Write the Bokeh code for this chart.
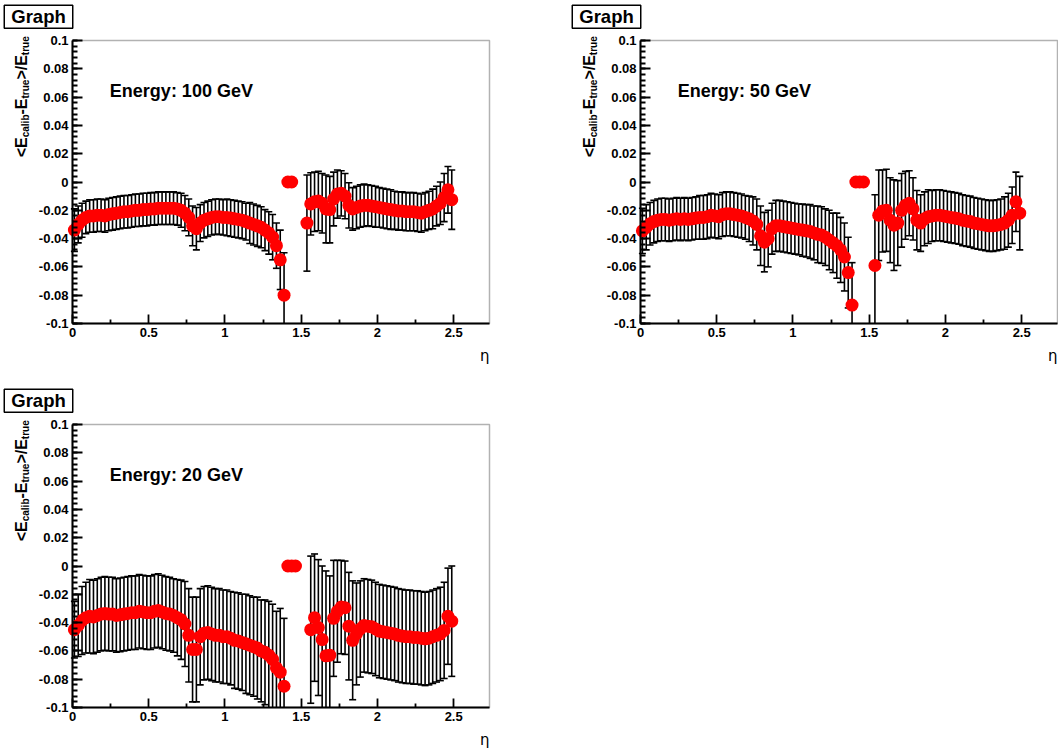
import numpy as np
from bokeh.plotting import figure
from bokeh.models import (ColumnDataSource, Range1d, FixedTicker, CustomJSTickFormatter, Label,
                          LinearAxis, BoxAnnotation)
from bokeh.layouts import row, column
from bokeh.embed import file_html
from bokeh.resources import INLINE

# ---------------- data ----------------
ETA_BARREL = [0.0125, 0.0375, 0.0625, 0.0875, 0.1125, 0.1375, 0.1625, 0.1875, 0.2125, 0.2375,
              0.2625, 0.2875, 0.3125, 0.3375, 0.3625, 0.3875, 0.4125, 0.4375, 0.4625, 0.4875,
              0.5125, 0.5375, 0.5625, 0.5875, 0.6125, 0.6375, 0.6625, 0.6875, 0.7125, 0.7375,
              0.7625, 0.7875, 0.8125, 0.8375, 0.8625, 0.8875, 0.9125, 0.9375, 0.9625, 0.9875,
              1.0125, 1.0375, 1.0625, 1.0875, 1.1125, 1.1375, 1.1625, 1.1875, 1.2125, 1.2375,
              1.2625, 1.2875, 1.3125, 1.3375, 1.3625, 1.3875]
ETA_CRACK = [1.4125, 1.4375, 1.4625]
ETA_ENDCAP = [1.5375, 1.5625, 1.5875, 1.6125, 1.6375, 1.6625, 1.6875, 1.7125, 1.7375, 1.7625,
              1.7875, 1.8125, 1.8375, 1.8625, 1.8875, 1.9125, 1.9375, 1.9625, 1.9875, 2.0125,
              2.0375, 2.0625, 2.0875, 2.1125, 2.1375, 2.1625, 2.1875, 2.2125, 2.2375, 2.2625,
              2.2875, 2.3125, 2.3375, 2.3625, 2.3875, 2.4125, 2.4375, 2.4625, 2.4875]

# 100 GeV
R100_B = [-0.034, -0.030, -0.027, -0.025, -0.024, -0.024, -0.0235, -0.0235, -0.024, -0.023,
          -0.0225, -0.022, -0.0215, -0.021, -0.021, -0.0205, -0.020, -0.020, -0.0195, -0.0195,
          -0.019, -0.019, -0.0185, -0.0185, -0.0185, -0.0185, -0.0185, -0.019, -0.020, -0.022,
          -0.025, -0.031, -0.033, -0.029, -0.027, -0.026, -0.025, -0.0245, -0.0245, -0.025,
          -0.025, -0.0255, -0.026, -0.0265, -0.027, -0.028, -0.029, -0.030, -0.031, -0.032,
          -0.034, -0.036, -0.039, -0.045, -0.055, -0.080]
E100_B = [0.015, 0.013, 0.012, 0.0115, 0.0115, 0.0115, 0.0115, 0.0115, 0.0115, 0.0115,
          0.0115, 0.0115, 0.0115, 0.0115, 0.0115, 0.0115, 0.0115, 0.0115, 0.0115, 0.0115,
          0.0115, 0.0115, 0.0115, 0.0115, 0.0115, 0.0115, 0.0115, 0.0115, 0.012, 0.0125,
          0.013, 0.014, 0.015, 0.013, 0.0125, 0.0125, 0.0125, 0.0125, 0.0125, 0.0125,
          0.013, 0.013, 0.013, 0.013, 0.013, 0.013, 0.0145, 0.0145, 0.0145, 0.0145,
          0.0145, 0.015, 0.016, 0.016, 0.021, 0.030]
R100_C = [0.0, 0.0]
R100_E = [-0.029, -0.0155, -0.014, -0.0135, -0.015, -0.019, -0.0195, -0.012, -0.0085, -0.008,
          -0.010, -0.0165, -0.019, -0.018, -0.017, -0.0165, -0.0165, -0.017, -0.0175, -0.018,
          -0.0185, -0.019, -0.0195, -0.020, -0.0205, -0.0205, -0.021, -0.021, -0.021, -0.0215,
          -0.022, -0.021, -0.020, -0.019, -0.017, -0.015, -0.011, -0.0055, -0.0125]
E100_E = [0.034, 0.022, 0.021, 0.021, 0.021, 0.024, 0.0235, 0.019, 0.017, 0.016,
          0.016, 0.016, 0.015, 0.015, 0.015, 0.015, 0.0145, 0.0145, 0.0145, 0.014,
          0.014, 0.014, 0.014, 0.0135, 0.0135, 0.0135, 0.0135, 0.0135, 0.0135, 0.0135,
          0.0135, 0.0135, 0.0135, 0.014, 0.014, 0.015, 0.017, 0.0165, 0.021]

# 50 GeV
R50_B = [-0.0345, -0.032, -0.0295, -0.028, -0.027, -0.0265, -0.0265, -0.027, -0.0265, -0.026,
         -0.0265, -0.026, -0.0265, -0.026, -0.0255, -0.025, -0.025, -0.0245, -0.0235, -0.024,
         -0.0245, -0.023, -0.0225, -0.0225, -0.023, -0.0235, -0.024, -0.025, -0.026, -0.0275,
         -0.030, -0.038, -0.0425, -0.040, -0.033, -0.031, -0.031, -0.0315, -0.032, -0.0325,
         -0.033, -0.0335, -0.034, -0.0345, -0.035, -0.036, -0.037, -0.0375, -0.039, -0.041,
         -0.043, -0.045, -0.048, -0.053, -0.064, -0.087]
E50_B = [0.016, 0.016, 0.015, 0.015, 0.015, 0.015, 0.015, 0.015, 0.015, 0.015,
         0.015, 0.015, 0.015, 0.015, 0.015, 0.0155, 0.0155, 0.0155, 0.0155, 0.0155,
         0.0155, 0.0155, 0.0155, 0.0155, 0.0155, 0.0155, 0.0155, 0.0155, 0.016, 0.017,
         0.018, 0.021, 0.021, 0.020, 0.018, 0.018, 0.018, 0.018, 0.018, 0.018,
         0.018, 0.018, 0.0185, 0.0185, 0.019, 0.019, 0.020, 0.020, 0.020, 0.021,
         0.021, 0.023, 0.023, 0.024, 0.025, 0.030]
R50_C = [0.0, 0.0, 0.0]
R50_E = [-0.059, -0.0235, -0.0205, -0.020, -0.027, -0.0305, -0.029, -0.020, -0.0165, -0.015,
         -0.019, -0.027, -0.029, -0.026, -0.0245, -0.024, -0.0235, -0.0235, -0.024, -0.0245,
         -0.025, -0.0255, -0.026, -0.027, -0.0275, -0.028, -0.029, -0.0295, -0.030, -0.0305,
         -0.031, -0.031, -0.0305, -0.030, -0.029, -0.027, -0.0235, -0.014, -0.022]
E50_E = [0.050, 0.032, 0.029, 0.029, 0.030, 0.032, 0.030, 0.026, 0.024, 0.023,
         0.022, 0.021, 0.020, 0.019, 0.019, 0.018, 0.018, 0.018, 0.018, 0.018,
         0.018, 0.018, 0.018, 0.018, 0.018, 0.018, 0.018, 0.018, 0.018, 0.018,
         0.018, 0.018, 0.018, 0.018, 0.0185, 0.019, 0.020, 0.021, 0.026]

# 20 GeV
R20_B = [-0.045, -0.042, -0.0385, -0.0365, -0.0355, -0.036, -0.035, -0.034, -0.0335, -0.034,
         -0.034, -0.035, -0.0345, -0.034, -0.0335, -0.033, -0.033, -0.032, -0.0325, -0.033,
         -0.033, -0.032, -0.0315, -0.0325, -0.0335, -0.034, -0.035, -0.0365, -0.038, -0.041,
         -0.049, -0.059, -0.059, -0.050, -0.0475, -0.047, -0.048, -0.049, -0.049, -0.050,
         -0.050, -0.051, -0.0525, -0.053, -0.054, -0.055, -0.056, -0.057, -0.058, -0.060,
         -0.061, -0.063, -0.066, -0.072, -0.075, -0.085]
E20_B = [0.020, 0.022, 0.024, 0.025, 0.026, 0.026, 0.026, 0.026, 0.026, 0.026,
         0.026, 0.026, 0.026, 0.026, 0.026, 0.026, 0.026, 0.026, 0.026, 0.026,
         0.026, 0.026, 0.026, 0.026, 0.026, 0.026, 0.026, 0.027, 0.028, 0.030,
         0.033, 0.037, 0.037, 0.034, 0.033, 0.033, 0.033, 0.033, 0.033, 0.033,
         0.033, 0.033, 0.034, 0.034, 0.034, 0.035, 0.035, 0.035, 0.036, 0.036,
         0.037, 0.038, 0.039, 0.040, 0.045, 0.048]
R20_C = [0.0, 0.0, 0.0]
R20_E = [-0.045, -0.0365, -0.0435, -0.052, -0.0635, -0.063, -0.037, -0.032, -0.029,
         -0.0295, -0.0425, -0.0525, -0.048, -0.0445, -0.042, -0.0425, -0.043, -0.0445, -0.046,
         -0.0465, -0.047, -0.0475, -0.048, -0.049, -0.0495, -0.050, -0.050, -0.0505, -0.0505,
         -0.051, -0.0515, -0.051, -0.050, -0.049, -0.048, -0.0455, -0.0355, -0.039]
E20_E = [0.052, 0.045, 0.048, 0.052, 0.060, 0.056, 0.041, 0.036, 0.033,
         0.033, 0.038, 0.042, 0.036, 0.034, 0.033, 0.033, 0.033, 0.033, 0.033,
         0.033, 0.033, 0.033, 0.033, 0.033, 0.033, 0.033, 0.033, 0.033, 0.033,
         0.033, 0.033, 0.033, 0.033, 0.033, 0.033, 0.034, 0.034, 0.039]

X_TICKS = [0, 0.5, 1, 1.5, 2, 2.5]
X_MINOR = [0.25, 0.75, 1.25, 1.75, 2.25]
Y_TICKS = [-0.1, -0.08, -0.06, -0.04, -0.02, 0, 0.02, 0.04, 0.06, 0.08, 0.1]
TITLE = "Graph"
X_TITLE = "η"
Y_TITLE_PARTS = [("<E", False), ("calib", True), ("-E", False), ("true", True), (">/E", False), ("true", True)]
ENERGY_LABELS = ["Energy: 100 GeV", "Energy: 50 GeV", "Energy: 20 GeV"]

# ---------------- styling ----------------
FONT = "Liberation Sans"
X_MIN, X_MAX = 0.0, 2.735
Y_MIN, Y_MAX = -0.1, 0.1
FW, FH = 417, 283
YPX = FH / (Y_MAX - Y_MIN)     # pixels per y unit
XPX = FW / (X_MAX - X_MIN)     # pixels per x unit

HELV_B = {'<': 584, 'E': 667, '-': 333, '>': 584, '/': 278, 'c': 556, 'a': 556, 'l': 278,
          'i': 278, 'b': 611, 't': 333, 'r': 389, 'u': 611, 'e': 556}


def text_w(s, size):
    return sum(HELV_B[c] for c in s) / 1000.0 * size


def make_panel(eta, resp, err, energy, width, height, left, top):
    bottom = height - top - FH
    right = width - left - FW
    p = figure(width=width, height=height, frame_width=width, frame_height=height,
               x_range=Range1d(X_MIN - left / XPX, X_MAX + right / XPX),
               y_range=Range1d(Y_MIN - bottom / YPX, Y_MAX + top / YPX),
               x_axis_type=None, y_axis_type=None,
               output_backend="svg", toolbar_location=None,
               min_border=0)
    p.background_fill_color = "white"
    p.border_fill_color = "white"
    p.outline_line_color = None
    p.grid.visible = False

    # plot box
    p.add_layout(BoxAnnotation(left=X_MIN, right=X_MAX, bottom=Y_MIN, top=Y_MAX,
                               fill_alpha=0, line_color="black", line_width=1.5, level="underlay"))

    # axes drawn at fixed positions inside the canvas
    xax = LinearAxis(fixed_location=Y_MIN, bounds=(X_MIN, X_MAX),
                     ticker=FixedTicker(ticks=X_TICKS, minor_ticks=X_MINOR),
                     formatter=CustomJSTickFormatter(
                         code="return tick.toFixed(1).replace(/0+$/, '').replace(/\\.$/, '')"))
    yax = LinearAxis(fixed_location=X_MIN, bounds=(Y_MIN, Y_MAX),
                     ticker=FixedTicker(ticks=Y_TICKS,
                                        minor_ticks=list(np.round(np.arange(-0.1, 0.1001, 0.004), 4))),
                     formatter=CustomJSTickFormatter(
                         code="return tick.toFixed(2).replace(/0+$/, '').replace(/\\.$/, '')"))
    for ax in (xax, yax):
        ax.axis_line_width = 2
        ax.axis_line_color = "black"
        ax.major_tick_line_width = 1.8
        ax.minor_tick_line_width = 1.8
        ax.major_tick_out = 0
        ax.minor_tick_out = 0
        ax.major_label_text_font = FONT
        ax.major_label_text_font_style = "bold"
        ax.major_label_text_font_size = "13px"
        ax.major_label_text_color = "black"
        ax.major_label_standoff = 4
    xax.major_tick_in = 9
    xax.minor_tick_in = 4
    yax.major_tick_in = 10
    yax.minor_tick_in = 5
    p.add_layout(xax, "below")
    p.add_layout(yax, "left")

    # error bars (cut at the plot box like the original renderer)
    eta_a = np.array(eta)
    r = np.array(resp)
    e = np.array(err)
    m = e > 0
    lo = r - e
    hi = r + e
    src_e = ColumnDataSource(dict(x=eta_a[m], lo=np.maximum(lo, Y_MIN)[m], hi=np.minimum(hi, Y_MAX)[m]))
    p.segment(x0="x", y0="lo", x1="x", y1="hi", source=src_e, line_color="black", line_width=1.6)
    ml = m & (lo >= Y_MIN)
    mh = m & (hi <= Y_MAX)
    p.scatter(eta_a[ml], lo[ml], marker="dash", size=7, line_color="black", line_width=1.6)
    p.scatter(eta_a[mh], hi[mh], marker="dash", size=7, line_color="black", line_width=1.6)

    # markers
    src = ColumnDataSource(dict(x=eta_a, y=r))
    p.scatter("x", "y", source=src, marker="circle", size=13,
              fill_color="#ff0000", line_color=None)

    # texts
    p.add_layout(Label(x=0.245, y=0.0645, text=energy, text_font=FONT, text_font_style="bold",
                       text_font_size="18px", text_baseline="middle", text_color="black"))
    p.add_layout(Label(x=X_MIN - 34 / XPX, y=Y_MAX + (top - 16.2) / YPX, text=TITLE, text_font=FONT,
                       text_font_style="bold", text_font_size="18.5px", text_align="center",
                       text_baseline="middle", text_color="black",
                       background_fill_color="white", border_line_color="black",
                       border_line_width=1.5, padding=(7, 1)))
    p.add_layout(Label(x=X_MAX, y=Y_MIN - 32 / YPX, text=X_TITLE, text_font="DejaVu Sans",
                       text_font_size="15px", text_align="right", text_baseline="middle",
                       text_color="black"))

    # y axis title  <E_calib-E_true>/E_true, rotated, centred on its line
    ypos = 24.7  # pixels above y=0
    for s, sub in Y_TITLE_PARTS:
        size = 10 if sub else 16
        xc = -47.0 if sub else -51.0   # centre line of the rotated text, px from the y axis
        p.add_layout(Label(x=xc / XPX, y=ypos / YPX, text=s, angle=np.pi / 2, text_font=FONT,
                           text_font_style="bold", text_font_size=f"{size}px",
                           text_align="left", text_baseline="middle", text_color="black"))
        ypos += text_w(s, size)
    return p


p1 = make_panel(ETA_BARREL + ETA_CRACK[:2] + ETA_ENDCAP, R100_B + R100_C + R100_E,
                E100_B + [0.0] * 2 + E100_E, ENERGY_LABELS[0], 566, 384, 72, 40)
p2 = make_panel(ETA_BARREL + ETA_CRACK + ETA_ENDCAP, R50_B + R50_C + R50_E,
                E50_B + [0.0] * 3 + E50_E, ENERGY_LABELS[1], 492, 384, 74, 40)
p3 = make_panel(ETA_BARREL + ETA_CRACK + ETA_ENDCAP[1:], R20_B + R20_C + R20_E,
                E20_B + [0.0] * 3 + E20_E, ENERGY_LABELS[2], 566, 367, 72, 40)

layout = column(row(p1, p2, spacing=0), p3, spacing=0)
open("out.html", "w").write(file_html(layout, INLINE))
